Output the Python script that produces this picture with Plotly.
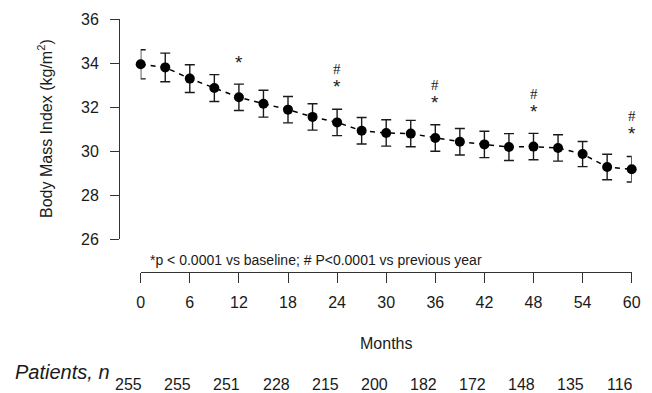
import plotly.graph_objects as go

# ---- data ----
months = [0, 3, 6, 9, 12, 15, 18, 21, 24, 27, 30, 33, 36, 39, 42, 45, 48, 51, 54, 57, 60]
bmi = [33.94, 33.80, 33.29, 32.86, 32.44, 32.15, 31.88, 31.55, 31.30, 30.92, 30.82, 30.79,
       30.59, 30.42, 30.30, 30.18, 30.20, 30.14, 29.86, 29.27, 29.17]
bmi_se = [0.66, 0.65, 0.63, 0.61, 0.60, 0.61, 0.60, 0.60, 0.60, 0.60, 0.60, 0.60,
          0.60, 0.60, 0.60, 0.61, 0.60, 0.60, 0.57, 0.58, 0.58]
sig_baseline = [12, 24, 36, 48, 60]      # * p<0.0001 vs baseline
sig_prev_year = [24, 36, 48, 60]         # # P<0.0001 vs previous year
patient_months = [0, 6, 12, 18, 24, 30, 36, 42, 48, 54, 60]
patients_n = [255, 255, 251, 228, 215, 200, 182, 172, 148, 135, 116]
x_ticks = [0, 6, 12, 18, 24, 30, 36, 42, 48, 54, 60]
y_ticks = [26, 28, 30, 32, 34, 36]

# page body has an 8px margin; the figure is sized to fill the rest of the window
OFF = 8
W, H = 652 - OFF, 393 - OFF
FONT = "Liberation Sans, Arial, Helvetica, sans-serif"
INK = "#1a1a1a"

def px_x(p):
    return (p - OFF) / W

def px_y(p):
    return 1 - (p - OFF) / H

fig = go.Figure()
fig.add_trace(go.Scatter(
    x=months, y=bmi, mode="lines+markers",
    line=dict(color="black", width=1.5, dash="5px,5px"),
    marker=dict(color="black", size=10),
    error_y=dict(type="data", array=bmi_se, visible=True, color=INK, thickness=1.4, width=5),
    cliponaxis=False, showlegend=False,
))

val = dict(zip(months, bmi))
HASH = "<span style='font-family:Liberation Serif, Times New Roman, serif;font-size:15px'>#</span>"
STAR = "<span style='font-size:19px'>*</span>"
for m in sig_baseline:
    if m in sig_prev_year:
        txt, shift = HASH + "<br>" + STAR, 43
    else:
        txt, shift = STAR, 35
    fig.add_annotation(x=m, y=val[m], yref="y", xref="x", text=txt, showarrow=False,
                       xanchor="center", yanchor="middle", yshift=shift,
                       font=dict(size=14.5, color=INK, family=FONT))

for m, n in zip(patient_months, patients_n):
    fig.add_annotation(x=m, y=px_y(384), xref="x", yref="paper", text=str(n), showarrow=False,
                       xanchor="center", yanchor="middle",
                       xshift=-12, font=dict(size=16, color=INK, family=FONT))

fig.add_annotation(x=px_x(13), y=px_y(372), xref="paper", yref="paper",
                   xanchor="left", yanchor="middle",
                   text="<i>Patients, n</i>", showarrow=False,
                   font=dict(size=20, color=INK, family=FONT))
fig.add_annotation(x=px_x(148), y=px_y(260), xref="paper", yref="paper",
                   xanchor="left", yanchor="middle",
                   text="*p < 0.0001 vs baseline; # P<0.0001 vs previous year", showarrow=False,
                   font=dict(size=14, color=INK, family=FONT))
fig.add_annotation(x=px_x(386), y=px_y(343), xref="paper", yref="paper",
                   xanchor="center", yanchor="middle",
                   text="Months", showarrow=False,
                   font=dict(size=16, color=INK, family=FONT))
fig.add_annotation(x=px_x(45), y=px_y(129), xref="paper", yref="paper", textangle=-90,
                   xanchor="center", yanchor="middle",
                   text="Body Mass Index (kg/m<sup>2</sup>)", showarrow=False,
                   font=dict(size=16, color=INK, family=FONT))

fig.update_layout(
    width=W, height=H,
    margin=dict(l=0, r=0, t=0, b=0),
    paper_bgcolor="white", plot_bgcolor="white",
    font=dict(family=FONT, size=16, color=INK),
    xaxis=dict(domain=[px_x(140.7), px_x(631.7)], range=[0, 60], anchor="free",
               position=px_y(271.7), showline=True, linecolor="#333", linewidth=1,
               ticks="outside", ticklen=10, tickcolor="#333", tickvals=x_ticks,
               showgrid=False, zeroline=False, ticklabelstandoff=6, automargin=False,
               tickfont=dict(size=16, color=INK)),
    yaxis=dict(domain=[px_y(239), px_y(19)], range=[26, 36], anchor="free",
               position=px_x(119), showline=True, linecolor="#333", linewidth=1,
               ticks="outside", ticklen=9, tickcolor="#333", tickvals=y_ticks,
               showgrid=False, zeroline=False, ticklabelstandoff=8, automargin=False,
               tickfont=dict(size=16, color=INK)),
)

fig.write_html("out.html")
